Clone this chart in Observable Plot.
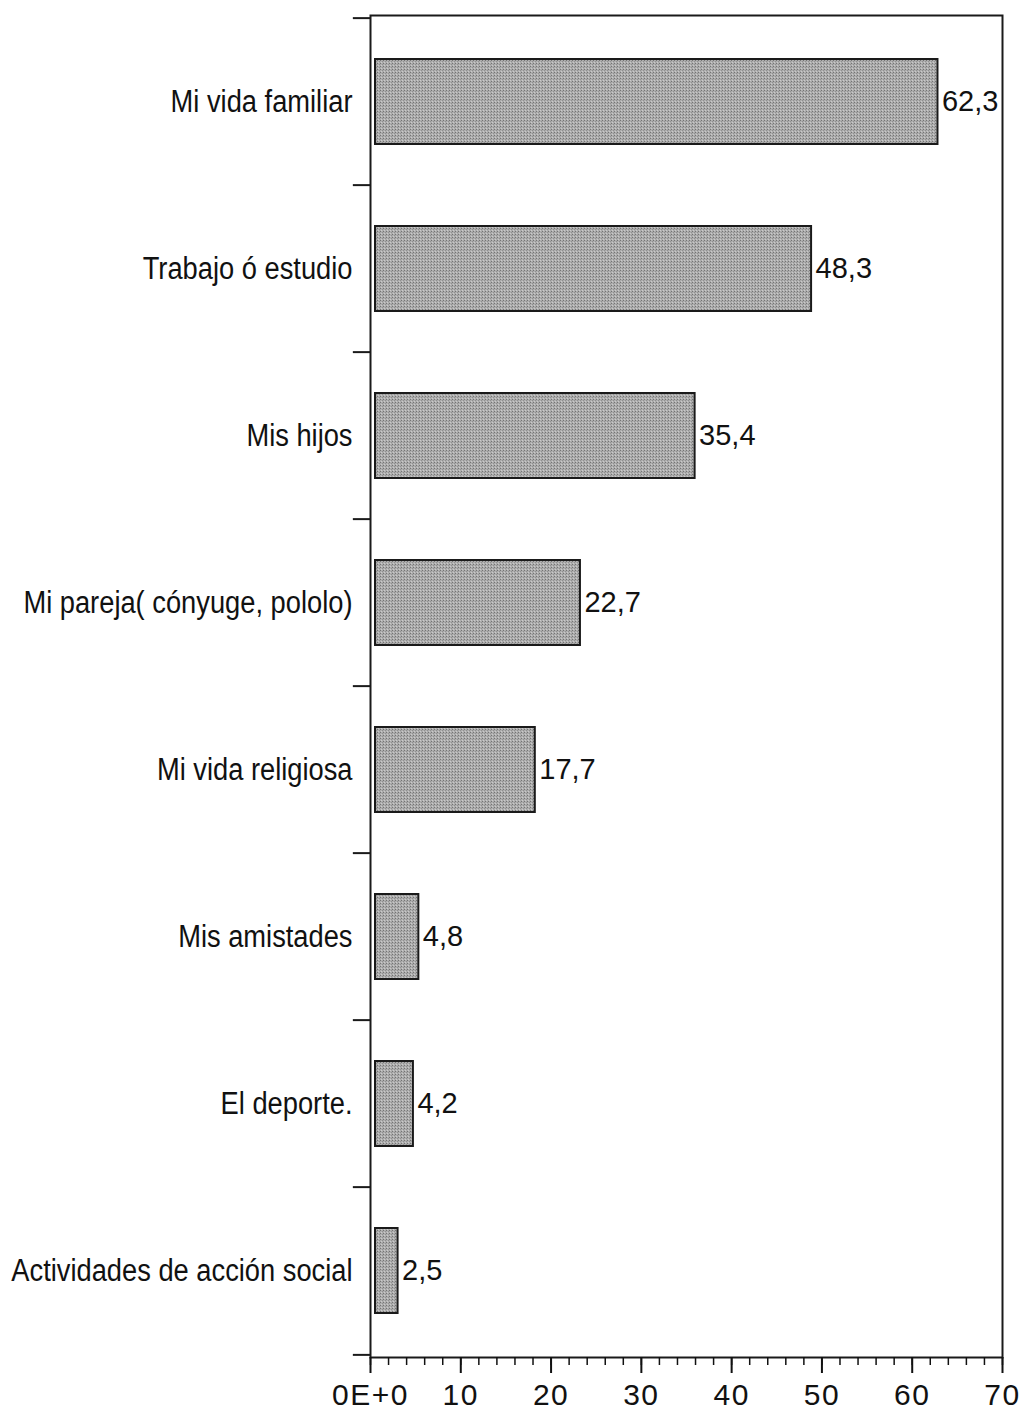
<!DOCTYPE html>
<html>
<head>
<meta charset="utf-8">
<script src="https://cdn.jsdelivr.net/npm/d3@7"></script>
<script src="https://cdn.jsdelivr.net/npm/@observablehq/plot@0.6"></script>
<style>
  html, body { margin: 0; padding: 0; background: #fff; }
  #chart svg { display: block; }
</style>
</head>
<body>
<div id="chart"></div>
<script>
const categories = [
  "Mi vida familiar",
  "Trabajo ó estudio",
  "Mis hijos",
  "Mi pareja( cónyuge, pololo)",
  "Mi vida religiosa",
  "Mis amistades",
  "El deporte.",
  "Actividades de acción social"
];
const values = [62.3, 48.3, 35.4, 22.7, 17.7, 4.8, 4.2, 2.5];
const valueLabels = ["62,3", "48,3", "35,4", "22,7", "17,7", "4,8", "4,2", "2,5"];
const majorTicks = [0, 10, 20, 30, 40, 50, 60, 70];
const majorTickLabels = ["0E+0", "10", "20", "30", "40", "50", "60", "70"];
const minorTicks = [0, 2, 4, 6, 8, 10, 12, 14, 16, 18, 20, 22, 24, 26, 28, 30, 32, 34, 36, 38, 40, 42, 44, 46, 48, 50, 52, 54, 56, 58, 60, 62, 64, 66, 68, 70];

const data = categories.map((c, i) => ({category: c, value: values[i], label: valueLabels[i]}));

const W = 1028, H = 1411;
const mTop = 15, mBottom = 54, mLeft = 370, mRight = 26;
const step = (H - mTop - mBottom) / categories.length;

const regular = "'Liberation Sans', Arial, Helvetica, sans-serif";

const chart = Plot.plot({
  width: W,
  height: H,
  marginTop: mTop,
  marginBottom: mBottom,
  marginLeft: mLeft,
  marginRight: mRight,
  style: {fontFamily: regular, color: "#111", background: "#fff"},
  x: {domain: [0, 70]},
  y: {domain: categories, paddingInner: 0.49, paddingOuter: 0.245},
  marks: [
    () => {
      const ns = "http://www.w3.org/2000/svg";
      const g = document.createElementNS(ns, "g");
      g.innerHTML = `<defs><pattern id="halftone" width="3" height="3" patternUnits="userSpaceOnUse">
        <rect width="3" height="3" fill="#adadad"/>
        <rect x="0" y="0" width="1" height="1" fill="#747474"/>
        <rect x="2" y="1" width="1" height="1" fill="#909090"/>
        <rect x="1" y="2" width="1" height="1" fill="#cacaca"/>
      </pattern></defs>`;
      return g;
    },
    Plot.barX(data, {x: "value", y: "category", fill: "url(#halftone)", stroke: "#1a1a1a", strokeWidth: 2, dx: 5}),
    Plot.frame({stroke: "#1a1a1a", strokeWidth: 2}),
    Plot.ruleY(categories, {y: d => d, x1: -1.9, x2: 0, dy: -step / 2, stroke: "#1a1a1a", strokeWidth: 2}),
    Plot.ruleY([categories[categories.length - 1]], {y: d => d, x1: -1.9, x2: 0, dy: step / 2, stroke: "#1a1a1a", strokeWidth: 2}),
    Plot.axisY({tickSize: 0, tickPadding: 18, fontSize: 31, label: null}),
    Plot.axisX({ticks: minorTicks, tickSize: 8, tickFormat: () => "", label: null, strokeWidth: 1.5}),
    Plot.axisX({ticks: majorTicks, tickSize: 16, tickPadding: 10, fontSize: 30, tickFormat: d => majorTickLabels[majorTicks.indexOf(d)], label: null, strokeWidth: 2}),
    Plot.text(data, {x: "value", y: "category", text: "label", textAnchor: "start", dx: 9, fontSize: 29, fill: "#111"})
  ]
});
document.getElementById("chart").append(chart);

// Condense the category labels (the original uses a narrow Helvetica face)
d3.select(chart).selectAll('g[aria-label="y-axis tick label"] text').each(function () {
  const len = this.getComputedTextLength();
  this.setAttribute("textLength", (len * 0.88).toFixed(1));
  this.setAttribute("lengthAdjust", "spacingAndGlyphs");
});
// Slightly looser tick label spacing like the original
d3.select(chart).selectAll('g[aria-label="x-axis tick label"] text').attr("letter-spacing", "1.5");
</script>
</body>
</html>
